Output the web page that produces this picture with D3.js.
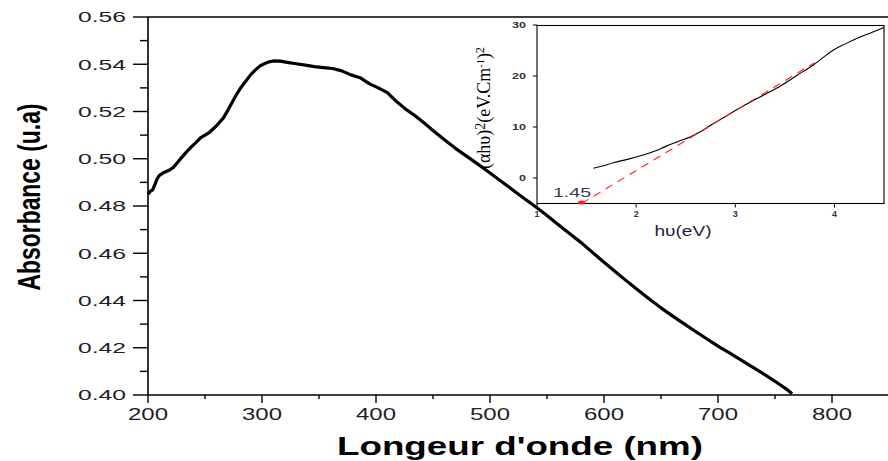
<!DOCTYPE html>
<html><head><meta charset="utf-8">
<script src="https://cdn.jsdelivr.net/npm/d3@7"></script>
<style>body{margin:0;background:#fff}svg{display:block}</style>
</head><body>
<script>
// ---- main spectrum data ----
const wavelength = [200,202,204,206,208,210,214,218,222,226,230,234,238,242,246,250,254,258,262,266,270,274,278,282,286,290,294,298,302,306,310,316,322,330,338,346,354,362,370,378,386,394,402,410,418,426,434,442,450,460,470,480,490,500,510,520,530,540,550,560,570,580,590,600,610,620,630,640,650,660,670,680,690,700,710,720,730,740,750,760,765];
const absorbance = [0.4850,0.4862,0.4868,0.4890,0.4915,0.4930,0.4942,0.4950,0.4962,0.4985,0.5008,0.5030,0.5050,0.5068,0.5088,0.5100,0.5112,0.5130,0.5150,0.5172,0.5205,0.5240,0.5275,0.5305,0.5330,0.5355,0.5375,0.5392,0.5402,0.5410,0.5414,0.5413,0.5408,0.5402,0.5396,0.5390,0.5386,0.5382,0.5372,0.5355,0.5343,0.5318,0.5300,0.5280,0.5242,0.5210,0.5183,0.5152,0.5120,0.5080,0.5043,0.5009,0.4975,0.4940,0.4904,0.4868,0.4832,0.4797,0.4760,0.4721,0.4683,0.4645,0.4603,0.4562,0.4522,0.4482,0.4443,0.4405,0.4369,0.4335,0.4302,0.4270,0.4238,0.4207,0.4178,0.4149,0.4119,0.4089,0.4058,0.4025,0.4005];
const xTicks = [200,300,400,500,600,700,800];
const yTicks = [0.40,0.42,0.44,0.46,0.48,0.50,0.52,0.54,0.56];
const yTickLabels = ["0.40","0.42","0.44","0.46","0.48","0.50","0.52","0.54","0.56"];

// ---- inset Tauc plot data ----
const energy = [1.57,1.67,1.77,1.92,2.07,2.19,2.31,2.43,2.55,2.67,2.78,2.88,2.98,3.08,3.19,3.32,3.46,3.62,3.79,3.89,3.99,4.11,4.23,4.37,4.50];
const tauc = [1.9,2.4,3.0,3.7,4.5,5.3,6.3,7.2,8.1,9.3,10.7,11.8,13.0,14.1,15.3,16.6,18.1,20.1,22.2,23.7,25.1,26.3,27.4,28.5,29.5];
const fitEnergy = [1.45,3.80];
const fitTauc = [-5.0,22.6];
const gapValue = 1.45;
const insetXTicks = [1,2,3,4];
const insetYTicks = [0,10,20,30];

const W = 888, H = 461;
const svg = d3.select("body").append("svg").attr("width",W).attr("height",H);
const txt = "#1e1e28";
const font = "'Liberation Sans', Arial, sans-serif";

const x = d3.scaleLinear().domain([200,850]).range([148,889]);
const y = d3.scaleLinear().domain([0.40,0.56]).range([395,17]);

// frame top
svg.append("line").attr("x1",148).attr("x2",W).attr("y1",17).attr("y2",17).attr("stroke","#000").attr("stroke-width",1.6);

// y axis
const gy = svg.append("g").attr("transform","translate(148,0)");
gy.append("line").attr("y1",17).attr("y2",395).attr("stroke","#000").attr("stroke-width",1.6);
const yMinor = [0.41,0.43,0.45,0.47,0.49,0.51,0.53,0.55];
gy.selectAll(".ymaj").data(yTicks).join("line").attr("x1",-15).attr("x2",0)
  .attr("y1",d=>y(d)).attr("y2",d=>y(d)).attr("stroke","#000").attr("stroke-width",1.4);
gy.selectAll(".ymin").data(yMinor).join("line").attr("x1",-8).attr("x2",0)
  .attr("y1",d=>y(d)).attr("y2",d=>y(d)).attr("stroke","#000").attr("stroke-width",1.4);
svg.selectAll(".ylab").data(yTicks).join("text")
  .attr("x",126).attr("y",d=>y(d)).attr("dy","0.36em").attr("text-anchor","end")
  .attr("font-family",font).attr("font-size",15).attr("fill",txt)
  .attr("textLength",48).attr("lengthAdjust","spacingAndGlyphs")
  .text((d,i)=>yTickLabels[i]);

// x axis
const gx = svg.append("g").attr("transform","translate(0,395)");
gx.append("line").attr("x1",148).attr("x2",W).attr("stroke","#000").attr("stroke-width",1.6);
gx.selectAll(".xmaj").data(xTicks).join("line").attr("x1",d=>x(d)).attr("x2",d=>x(d))
  .attr("y1",0).attr("y2",8).attr("stroke","#000").attr("stroke-width",1.4);
gx.selectAll(".xmin").data([250,350,450,550,650,750,850]).join("line").attr("x1",d=>x(d)).attr("x2",d=>x(d))
  .attr("y1",0).attr("y2",4).attr("stroke","#000").attr("stroke-width",1.4);
svg.selectAll(".xlab").data(xTicks).join("text")
  .attr("x",d=>x(d)).attr("y",414).attr("dy","0.36em").attr("text-anchor","middle")
  .attr("font-family",font).attr("font-size",16).attr("fill",txt)
  .attr("textLength",40).attr("lengthAdjust","spacingAndGlyphs")
  .text(d=>d);

// axis titles
svg.append("text").attr("x",520).attr("y",455).attr("text-anchor","middle")
  .attr("font-family",font).attr("font-weight","bold").attr("font-size",25).attr("fill","#000")
  .attr("textLength",366).attr("lengthAdjust","spacingAndGlyphs")
  .text("Longeur d'onde (nm)");
svg.append("text").attr("transform","translate(40,197) rotate(-90)").attr("text-anchor","middle")
  .attr("font-family",font).attr("font-weight","bold").attr("font-size",31).attr("fill","#000")
  .attr("textLength",187).attr("lengthAdjust","spacingAndGlyphs")
  .text("Absorbance (u.a)");

// main curve
const mainData = wavelength.map((w,i)=>[w,absorbance[i]]);
svg.append("path").datum(mainData)
  .attr("d",d3.line().x(d=>x(d[0])).y(d=>y(d[1])))
  .attr("fill","none").attr("stroke","#000").attr("stroke-width",3.2).attr("stroke-linejoin","round");

// ---- inset ----
const ix = d3.scaleLinear().domain([1,4.5]).range([537,884]);
const iy = d3.scaleLinear().domain([-5,30]).range([203.5,25]);
svg.append("rect").attr("x",537).attr("y",25.5).attr("width",347).attr("height",178)
  .attr("fill","none").attr("stroke","#000").attr("stroke-width",1.1);
svg.selectAll(".iyt").data(insetYTicks).join("line").attr("x1",533).attr("x2",537)
  .attr("y1",d=>iy(d)).attr("y2",d=>iy(d)).attr("stroke","#000").attr("stroke-width",1);
svg.selectAll(".ixt").data(insetXTicks).join("line").attr("x1",d=>ix(d)).attr("x2",d=>ix(d))
  .attr("y1",203.5).attr("y2",207.5).attr("stroke","#000").attr("stroke-width",1);
svg.selectAll(".iyl").data(insetYTicks).join("text")
  .attr("x",526).attr("y",d=>iy(d)).attr("dy","0.36em").attr("text-anchor","end")
  .attr("font-family",font).attr("font-weight","bold").attr("font-size",9).attr("fill","#333")
  .attr("textLength",d=>String(d).length*7).attr("lengthAdjust","spacingAndGlyphs")
  .text(d=>d);
svg.selectAll(".ixl").data(insetXTicks).join("text")
  .attr("x",d=>ix(d)).attr("y",213.5).attr("dy","0.36em").attr("text-anchor","middle")
  .attr("font-family",font).attr("font-weight","bold").attr("font-size",9).attr("fill","#333")
  .text(d=>d);
svg.append("text").attr("x",683).attr("y",236).attr("text-anchor","middle")
  .attr("font-family",font).attr("font-size",14).attr("fill","#1e1e3a")
  .attr("textLength",57).attr("lengthAdjust","spacingAndGlyphs")
  .text("hυ(eV)");
const yt = svg.append("text").attr("transform","translate(490,108) rotate(-90)").attr("text-anchor","middle")
  .attr("font-family","'Liberation Serif','Times New Roman',serif").attr("font-size",19).attr("fill","#000")
  .attr("textLength",122).attr("lengthAdjust","spacingAndGlyphs");
yt.append("tspan").text("(αhυ)");
yt.append("tspan").attr("font-size",15).attr("dy",-5).text("2");
yt.append("tspan").attr("dy",5).text("(eV.Cm");
yt.append("tspan").attr("font-size",11).attr("dy",-6).text("-1");
yt.append("tspan").attr("dy",6).text(")");
yt.append("tspan").attr("font-size",13).attr("dy",-6).text("2");

// inset curves
svg.append("path").datum(energy.map((e,i)=>[e,tauc[i]]))
  .attr("d",d3.line().curve(d3.curveMonotoneX).x(d=>ix(d[0])).y(d=>iy(d[1])))
  .attr("fill","none").attr("stroke","#000").attr("stroke-width",1.1);
svg.append("path").datum(fitEnergy.map((e,i)=>[e,fitTauc[i]]))
  .attr("d",d3.line().x(d=>ix(d[0])).y(d=>iy(d[1])))
  .attr("fill","none").attr("stroke","#ff2020").attr("stroke-width",1.1).attr("stroke-dasharray","8,6")
  .attr("stroke-dashoffset",-14);
svg.append("ellipse").attr("cx",ix(gapValue)).attr("cy",iy(-5)-1).attr("rx",3.5).attr("ry",2)
  .attr("fill","#ff2020");
svg.append("text").attr("x",572).attr("y",192).attr("dy","0.36em").attr("text-anchor","middle")
  .attr("font-family",font).attr("font-size",13).attr("fill","#3a3a4a")
  .attr("textLength",38).attr("lengthAdjust","spacingAndGlyphs")
  .text(gapValue.toFixed(2));
</script>
</body></html>
